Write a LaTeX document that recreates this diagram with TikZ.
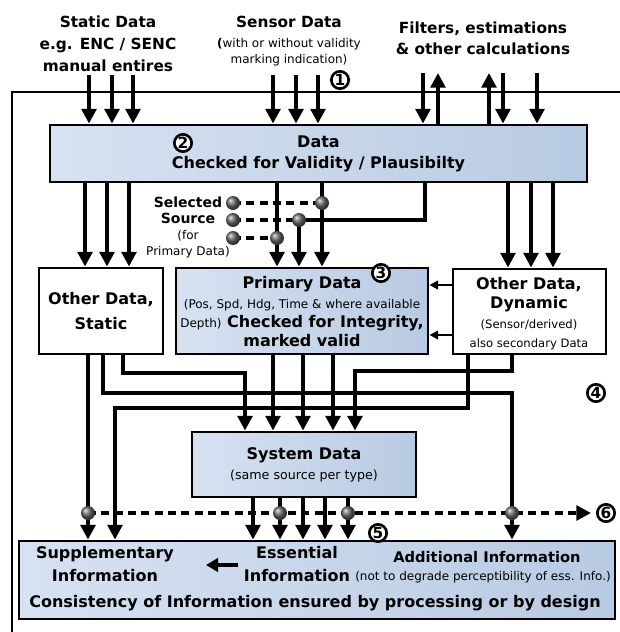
\documentclass[tikz,border=0pt]{standalone}
\usepackage{fontspec}
\setmainfont{DejaVu Sans}
\usetikzlibrary{arrows.meta,fit,calc}
\definecolor{boxL}{RGB}{215,226,241}
\definecolor{boxR}{RGB}{184,202,227}
\definecolor{ballC}{RGB}{105,105,105}
\begin{document}
\begin{tikzpicture}[x=0.75pt,y=-0.75pt,
  big/.style={font=\fontsize{11.5}{16}\selectfont\bfseries, align=center, inner sep=0pt},
  small/.style={font=\fontsize{9}{12}\selectfont, align=center, inner sep=0pt},
  gbox/.style={draw, line width=2.2pt, left color=boxL, right color=boxR, inner sep=0pt},
  wbox/.style={draw, line width=2.2pt, fill=white, inner sep=0pt},
  flowarr/.style={line width=3pt, -{Triangle[width=11pt,length=11pt]}},
  thinarr/.style={line width=1.5pt, -{Triangle[width=6.5pt,length=6.5pt]}},
  dashline/.style={line width=3pt, dash pattern=on 6pt off 4pt},
  ballnode/.style={circle, inner sep=0pt, minimum size=10.5pt, shading=ball, ball color=ballC},
  num/.style={circle, draw, line width=2pt, fill=white, inner sep=0pt, minimum size=13pt, font=\fontsize{11.5}{11.5}\selectfont\bfseries}
]
\useasboundingbox (0,0) rectangle (620,632);

% outer frame
\draw[line width=1.1pt] (12,632) -- (12,92) -- (620,92);

% top labels
\node[big, font=\fontsize{11.5}{16.5}\selectfont\bfseries] (lstatic) at (108,44) {Static Data\\e.g. ENC / SENC\\manual entires};
\node[big] (lsensor) at (289,22) {Sensor Data};
\node[small] (lsensor2) at (289,52) {{\bfseries(}with or without validity\\marking indication)};
\node[big] (lfilter) at (483,38) {Filters, estimations\\\& other calculations};
\node[num] (n1) at (340,80) {1};

% boxes
\node[gbox, fit={(50,125) (587,182)}] (data) {};
\node[big, font=\fontsize{12}{16}\selectfont\bfseries] (datatxt) at (318.5,154) {Data\\Checked for Validity / Plausibilty};
\node[num] (n2) at (183,143) {2};

\node[wbox, fit={(39,268) (163,354)}] (ods) {};
\node[big, font=\fontsize{12}{18.5}\selectfont\bfseries] (odstxt) at (101,311) {Other Data,\\Static};

\node[gbox, fit={(176,268) (428,354)}] (prim) {};
\node[big, font=\fontsize{12}{14.5}\selectfont\bfseries] (primtxt) at (302,312)
  {Primary Data\\{\fontsize{9}{9}\selectfont\mdseries (Pos, Spd, Hdg, Time \& where available}\\{\fontsize{9}{9}\selectfont\mdseries Depth)} Checked for Integrity,\\marked valid};
\node[num] (n3) at (381,273) {3};

\node[wbox, fit={(453,269) (606,354)}] (dyn) {};
\node[big, font=\fontsize{12}{14.5}\selectfont\bfseries] (dyntxt) at (529,313.5)
  {Other Data,\\Dynamic\\{\fontsize{8.7}{8.7}\selectfont\mdseries (Sensor/derived)}\\{\fontsize{8.7}{8.7}\selectfont\mdseries also secondary Data}};

\node[gbox, fit={(192,432) (416,497)}] (sys) {};
\node[big, font=\fontsize{12}{14.5}\selectfont\bfseries] (systxt) at (304,465)
  {System Data\\{\fontsize{9.5}{9.5}\selectfont\mdseries (same source per type)}};

\node[gbox, fit={(19,541) (615,619)}] (bot) {};
\node[big, font=\fontsize{12}{17}\selectfont\bfseries] (supp) at (105,564) {Supplementary\\Information};
\node[big, font=\fontsize{12}{17}\selectfont\bfseries] (ess) at (297,564) {Essential\\Information};
\node[big, font=\fontsize{11}{14}\selectfont\bfseries] (add) at (487,557) {Additional Information};
\node[small] (addnote) at (483,577) {(not to degrade perceptibility of ess. Info.)};
\node[big, font=\fontsize{12}{16}\selectfont\bfseries] (cons) at (315,603) {Consistency of Information ensured by processing or by design};
\coordinate (ea) at (238,565);
\coordinate (sa) at (206,565);
\draw[line width=3pt, -{Triangle[width=10pt,length=9pt]}] (ea) -- (sa);

% selected source
\node[inner sep=0pt, align=center] (seltxt) at (188,227)
  {\fontsize{10.5}{13.5}\selectfont\bfseries Selected\\\fontsize{10.5}{13.5}\selectfont\bfseries Source\\\fontsize{9}{13.5}\selectfont (for\\\fontsize{9}{13.5}\selectfont Primary Data)};

% top input arrows
\foreach \x in {89,112,133,273,296,318} \draw[flowarr] (\x,75) -- (data.north -| \x,0);
\foreach \x in {423,503,537} \draw[flowarr] (\x,73) -- (data.north -| \x,0);
\foreach \x in {438,489} \draw[flowarr] (data.north -| \x,0) -- (\x,73);

% data -> other static / dynamic
\foreach \x in {85,107,129} \draw[flowarr] (data.south -| \x,0) -- (ods.north -| \x,0);
\foreach \x in {508,531,553} \draw[flowarr] (data.south -| \x,0) -- (dyn.north -| \x,0);

% selection
\coordinate (b1) at (233,203);
\coordinate (b2) at (233,220);
\coordinate (b3) at (233,238);
\coordinate (b4) at (322,203);
\coordinate (b5) at (299,220);
\coordinate (b6) at (277,238);
\draw[dashline] (b1) -- (b4);
\draw[dashline] (b2) -- (b5);
\draw[dashline] (b3) -- (b6);
\draw[flowarr] (data.south -| b6) -- (prim.north -| b6);
\draw[flowarr] (data.south -| b4) -- (prim.north -| b4);
\draw[flowarr] (data.south -| 425,0) |- (b5) -- (prim.north -| b5);

% dynamic -> primary
\draw[thinarr] (dyn.west |- 0,285) -- (prim.east |- 0,285);
\draw[thinarr] (dyn.west |- 0,335) -- (prim.east |- 0,335);

% to system data
\draw[flowarr] (ods.south -| 123,0) |- (245,373) -- (sys.north -| 245,0);
\foreach \x in {273,303,333} \draw[flowarr] (prim.south -| \x,0) -- (sys.north -| \x,0);
\draw[flowarr] (dyn.south -| 512,0) |- (355,371) -- (sys.north -| 355,0);

% bypass lines
\draw[flowarr] (ods.south -| 88,0) -- (bot.north -| 88,0);
\draw[flowarr] (ods.south -| 103,0) |- (512,393) -- (bot.north -| 512,0);
\draw[flowarr] (dyn.south -| 468,0) |- (115,408) -- (bot.north -| 115,0);
\foreach \x in {253,280,303,325,348} \draw[flowarr] (sys.south -| \x,0) -- (bot.north -| \x,0);

% output dashed
\coordinate (c1) at (88,513);
\coordinate (c2) at (280,513);
\coordinate (c3) at (348,513);
\coordinate (c4) at (512,513);
\coordinate (outend) at (591,513);
\draw[dashline, -{Triangle[width=11pt,length=11pt]}] (c1) -- (outend);

% balls
\foreach \c in {b1,b2,b3,b4,b5,b6,c1,c2,c3,c4} \node[ballnode] (ball-\c) at (\c) {};

% numbers
\node[num] (n4) at (596,393) {4};
\node[num] (n5) at (378,533) {5};
\node[num] (n6) at (606,513) {6};
\end{tikzpicture}
\end{document}
